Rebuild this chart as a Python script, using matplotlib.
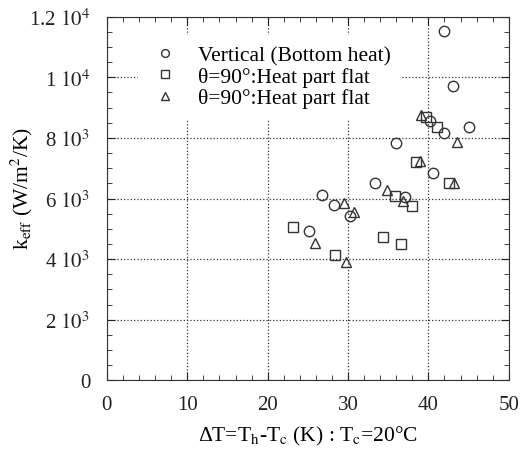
import numpy as np
import matplotlib; matplotlib.use("Agg")
import matplotlib.pyplot as plt
from matplotlib.ticker import MultipleLocator

plt.rcParams["font.family"] = ["Liberation Serif", "DejaVu Serif"]
plt.rcParams["mathtext.fontset"] = "stix"

# data (x: deltaT in K, y: k_eff in W/m2/K)
vert_x = [42.0, 43.1, 45.1, 42.0, 40.2, 36.0, 40.6, 33.4, 26.8, 37.1, 28.2, 30.2, 25.2]
vert_y = [11530, 9700, 8370, 8160, 8570, 7840, 6840, 6510, 6130, 6040, 5800, 5430, 4920]
sq_x = [39.7, 41.1, 38.4, 42.6, 35.8, 38.0, 23.2, 28.4, 34.4, 36.6]
sq_y = [8680, 8350, 7220, 6510, 6090, 5760, 5070, 4130, 4740, 4500]
tri_x = [39.1, 43.6, 38.9, 43.2, 34.8, 29.5, 30.7, 36.8, 25.9, 29.8]
tri_y = [8770, 7880, 7250, 6510, 6290, 5850, 5560, 5910, 4530, 3910]

yticks = [0, 2000, 4000, 6000, 8000, 10000, 12000]
ylabels = ["0", r"2$\ 10^3$", r"4$\ 10^3$", r"6$\ 10^3$", r"8$\ 10^3$", r"1$\ 10^4$", r"1.2$\ 10^4$"]
xticks = [0, 10, 20, 30, 40, 50]

fig = plt.figure(figsize=(5.24, 4.56), dpi=100)
ax = fig.add_axes([0.204, 0.164, 0.767, 0.797])

mk = dict(linestyle="none", mfc="none", mec="#333333", mew=1.0, ms=7.5)
ax.plot(vert_x, vert_y, marker="o", label="Vertical (Bottom heat)", **mk)
ax.plot(sq_x, sq_y, marker="s", label="θ=90°:Heat part flat", **mk)
ax.plot(tri_x, tri_y, marker="^", label="θ=90°:Heat part flat", **mk)

ax.set_xlim(0, 50); ax.set_ylim(0, 12000)
ax.set_xticks(xticks); ax.set_yticks(yticks); ax.set_yticklabels(ylabels)
ax.xaxis.set_minor_locator(MultipleLocator(2))
ax.yaxis.set_minor_locator(MultipleLocator(500))
ax.tick_params(which="both", direction="in", top=True, right=True, labelsize=15, colors="#222222")
ax.tick_params(which="major", length=6)
ax.tick_params(axis="x", which="major", pad=11)
ax.tick_params(axis="y", which="major", pad=12)
ax.tick_params(which="minor", length=3.5)
ax.grid(True, which="major", linestyle=":", color="#333333", lw=0.9)
for s in ax.spines.values(): s.set_color("#333333")

ax.set_xlabel("ΔT=T$_{\\rm h}$-T$_{\\rm c}$ (K) : T$_{\\rm c}$=20°C", fontsize=15.5, labelpad=7)
ax.set_ylabel("k$_{\\rm eff}$ (W/m$^2$/K)", fontsize=15.5)
ax.yaxis.set_label_coords(-0.178, 0.53)

leg = ax.legend(loc="upper left", bbox_to_anchor=(0.077, 0.95), borderaxespad=0,
                fontsize=15.5, frameon=True, facecolor="white", edgecolor="none", framealpha=1,
                borderpad=0.5, handlelength=1.5, handletextpad=0.8, labelspacing=0.05,
                markerscale=0.75, fancybox=False)
leg.set_zorder(1.5)

fig.savefig("out.png", dpi=100)
